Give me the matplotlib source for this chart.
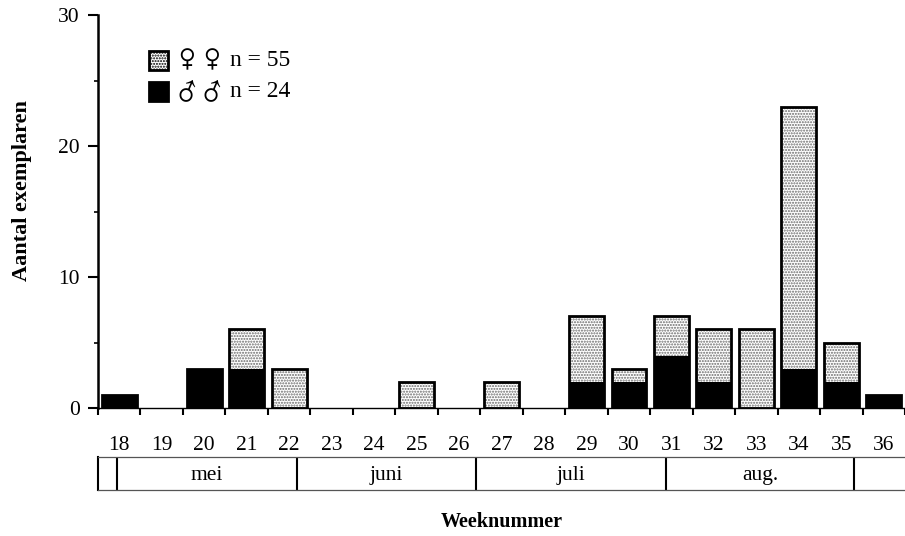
import matplotlib
matplotlib.use("Agg")
import matplotlib.pyplot as plt
from matplotlib.patches import Rectangle
import numpy as np

# week numbers and counts per sex
weeks = list(range(18, 37))
males = [1, 0, 3, 3, 0, 0, 0, 0, 0, 0, 0, 2, 2, 4, 2, 0, 3, 2, 1]
females = [0, 0, 0, 3, 3, 0, 0, 2, 0, 2, 0, 5, 1, 3, 4, 6, 20, 3, 0]

# month strip below the axis (boundaries in week units)
month_names = ["mei", "juni", "juli", "aug."]
month_edges = [17.95, 22.15, 26.35, 30.8, 35.2]

n_females = 55
n_males = 24

plt.rcParams["font.family"] = ["Liberation Serif", "DejaVu Sans"]
plt.rcParams["hatch.linewidth"] = 1.0

W, H = 905, 536
fig = plt.figure(figsize=(W / 100, H / 100), dpi=100)

x0, x1 = 98, 905
slot = 42.7
xlim = (17.5, 17.5 + (x1 - x0) / slot)

ax = fig.add_axes([x0 / W, (H - 408) / H, (x1 - x0) / W, (408 - 15) / H])

w = np.array(weeks, dtype=float)
m = np.array(males, dtype=float)
f = np.array(females, dtype=float)
tot = m + f
bw = 0.82

# stippled female parts
sel = f > 0
ax.bar(w[sel], f[sel], bottom=m[sel], width=bw, color="white",
       edgecolor="#6a6a6a", linewidth=0, hatch="......", zorder=2)
# black male parts
sel = m > 0
ax.bar(w[sel], m[sel], width=bw, color="black", linewidth=0, zorder=3)
# outline round every stacked bar
sel = tot > 0
ax.bar(w[sel], tot[sel], width=bw, fill=False, edgecolor="black",
       linewidth=2.0, zorder=4)

ax.set_xlim(*xlim)
ax.set_ylim(0, 30)
ax.spines["top"].set_visible(False)
ax.spines["right"].set_visible(False)
ax.spines["left"].set_linewidth(1.8)
ax.spines["bottom"].set_linewidth(1.0)

ax.set_yticks([0, 10, 20, 30])
ax.set_yticks([5, 15, 25], minor=True)
ax.tick_params(axis="y", which="major", length=7, width=1.5, labelsize=15.5, pad=6)
ax.tick_params(axis="y", which="minor", length=3, width=1.2)

ax.set_xticks(np.arange(17.5, 36.6, 1.0))
ax.set_xticklabels([])
ax.set_xticks(w, minor=True)
ax.set_xticklabels([str(k) for k in weeks], minor=True)
ax.tick_params(axis="x", which="major", length=5, width=1.5)
ax.tick_params(axis="x", which="minor", length=0, labelsize=15.5, pad=20)

fig.text(22 / W, 1 - 191 / H, "Aantal exemplaren", rotation=90, ha="center",
         va="center", fontsize=16, fontweight="bold")

# hand-made key in pixel positions of the figure
def px(x, y):
    return x / W, 1 - y / H

key = [
    ("\u2640", "n = %d" % n_females, dict(facecolor="white", hatch="......")),
    ("\u2642", "n = %d" % n_males, dict(facecolor="black")),
]
for i, (sym, txt, style) in enumerate(key):
    yc = 60 + i * 31
    fig.patches.append(Rectangle(px(149, yc + 9.5), 19 / W, 19 / H,
                                 transform=fig.transFigure, edgecolor="black",
                                 linewidth=2, **style))
    for xs in (187, 212):
        fig.text(*px(xs, yc), sym, ha="center", va="center", fontsize=20,
                 family=["STIXGeneral", "DejaVu Sans"])
    fig.text(*px(230, yc + 1), txt, ha="left", va="center", fontsize=17)

# month strip
axm = fig.add_axes([x0 / W, (H - 490) / H, (x1 - x0) / W, (490 - 457) / H])
axm.set_xlim(*xlim)
axm.set_ylim(0, 1)
axm.set_xticks([])
axm.set_yticks([])
for s in ["top", "bottom"]:
    axm.spines[s].set_linewidth(0.9)
    axm.spines[s].set_color("#555555")
axm.spines["right"].set_visible(False)
axm.spines["left"].set_linewidth(1.5)
for e in month_edges:
    axm.axvline(e, color="black", linewidth=1.5)
for i, name in enumerate(month_names):
    axm.text((month_edges[i] + month_edges[i + 1]) / 2, 0.45, name,
             ha="center", va="center", fontsize=15.5)

fig.text((x0 + x1) / 2 / W, 1 - 522 / H, "Weeknummer", ha="center", va="center",
         fontsize=14.5, fontweight="bold")

fig.savefig("out.png", dpi=100)
